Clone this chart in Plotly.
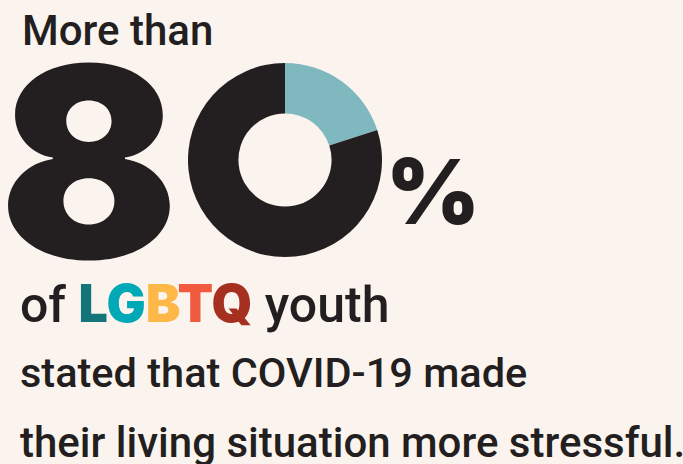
import plotly.graph_objects as go

W, H = 683, 464

# Data
labels = ["Not more stressful", "More stressful"]
values = [20, 80]
slice_colors = ["#80B8BF", "#231F20"]

headline_top = "More than"
big_digit = "8"
pct_sign = "%"
acronym = ["L", "G", "B", "T", "Q"]
acronym_colors = ["#137479", "#00A9B5", "#FDB848", "#F05A3F", "#A5301F"]
line2 = "stated that COVID-19 made"
line3 = "their living situation more stressful."

BG = "#FBF4EE"
INK = "#231F20"
BODY_FONT = "Roboto"
HEAVY_FONT = "Inter"


def px(x):
    return x / W


def py(y):
    return 1 - y / H


fig = go.Figure()
cx, cy, r = 285, 160, 97
fig.add_trace(go.Pie(
    labels=labels, values=values, sort=False, direction="clockwise",
    rotation=0, hole=0.48,
    marker=dict(colors=slice_colors, line=dict(width=0)),
    textinfo="none", hoverinfo="label+percent", showlegend=False,
    domain=dict(x=[px(cx - r), px(cx + r)], y=[py(cy + r), py(cy - r)]),
))

acr = "".join(
    f"<span style='color:{c};font-family:{HEAVY_FONT};font-weight:900;font-size:52px'>{ch}</span>"
    for ch, c in zip(acronym, acronym_colors)
)

annos = [
    dict(text=headline_top, x=px(20), y=py(30), font=dict(family=BODY_FONT, size=42, color=INK, weight=500)),
    dict(text=big_digit, x=px(-3), y=py(161), font=dict(family=HEAVY_FONT, size=265, color=INK, weight=900)),
    dict(text=pct_sign, x=px(384), y=py(191), font=dict(family=HEAVY_FONT, size=90, color=INK, weight=900)),
    dict(text=f"of {acr} youth", x=px(18), y=py(303), font=dict(family=BODY_FONT, size=50, color=INK, weight=500)),
    dict(text=line2, x=px(18), y=py(372), font=dict(family=BODY_FONT, size=41.5, color=INK, weight=500)),
    dict(text=line3, x=px(18), y=py(442), font=dict(family=BODY_FONT, size=42, color=INK, weight=500)),
]
for a in annos:
    fig.add_annotation(xref="paper", yref="paper", xanchor="left", yanchor="middle",
                       showarrow=False, **a)

fig.update_layout(
    width=W, height=H, margin=dict(l=0, r=0, t=0, b=0),
    paper_bgcolor=BG, plot_bgcolor=BG,
)
fig.write_html("out.html")
